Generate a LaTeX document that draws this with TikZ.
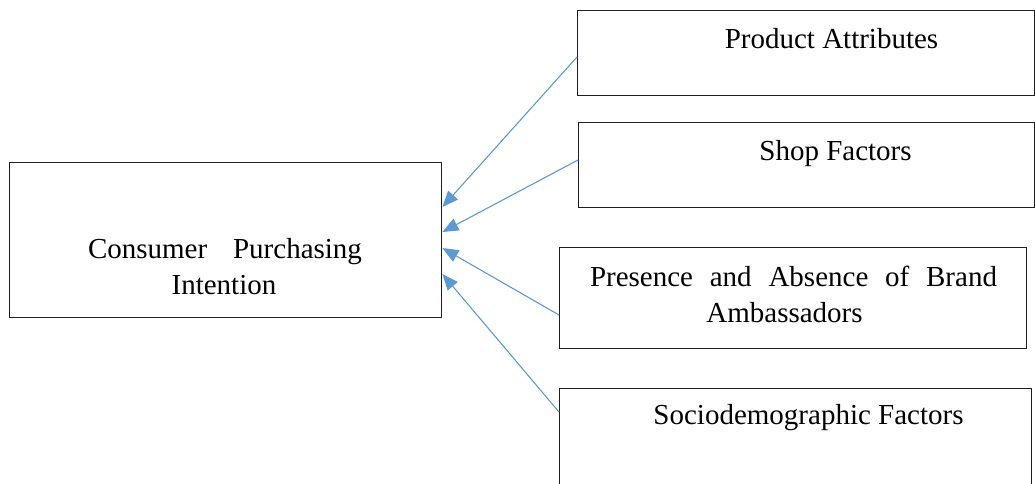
\documentclass[tikz,border=0pt]{standalone}
\usepackage{fontspec}
\setmainfont{Liberation Serif}
\usetikzlibrary{arrows.meta}
\definecolor{linkblue}{HTML}{5B9BD5}
\definecolor{boxline}{HTML}{1F1F1F}
\begin{document}
\begin{tikzpicture}[x=1pt,y=-1pt,
  box/.style={draw=boxline,line width=1.4pt,rectangle,inner sep=0pt,anchor=north west},
  txt/.style={anchor=base,inner sep=0pt,font=\fontsize{29}{36}\selectfont},
  conn/.style={draw=linkblue,line width=1.1pt,-{Triangle[length=16pt,width=13pt]}}]
\useasboundingbox (0,0) rectangle (1035,483);
% boxes
\node[box,minimum width=432pt,minimum height=155pt] (cpi) at (9,162) {};
\node[box,minimum width=457pt,minimum height=85pt]  (pa)  at (577,10) {};
\node[box,minimum width=456pt,minimum height=85pt]  (sf)  at (578,122) {};
\node[box,minimum width=467pt,minimum height=101pt] (pb)  at (559,247) {};
\node[box,minimum width=472pt,minimum height=102pt] (sd)  at (559,388) {};
% labels
\node[txt] (cpi1) at (225,258) {\makebox[274pt][s]{Consumer Purchasing}};
\node[txt] (cpi2) at (224,294) {Intention};
\node[txt] (pat)  at (831.5,48) {Product Attributes};
\node[txt] (sft)  at (835.5,160) {Shop Factors};
\node[txt] (pb1)  at (793.5,286) {\makebox[407pt][s]{Presence and Absence of Brand}};
\node[txt] (pb2)  at (784.5,322) {Ambassadors};
\node[txt] (sdt)  at (808.5,424) {Sociodemographic Factors};
% connectors
\draw[conn] ([yshift=-47pt]pa.north west) -- ([yshift=-45pt]cpi.north east);
\draw[conn] ([yshift=-38pt]sf.north west) -- ([yshift=-70pt]cpi.north east);
\draw[conn] ([yshift=-68pt]pb.north west) -- ([yshift=-86pt]cpi.north east);
\draw[conn] ([yshift=-24pt]sd.north west) -- ([yshift=-112pt]cpi.north east);
\end{tikzpicture}
\end{document}
